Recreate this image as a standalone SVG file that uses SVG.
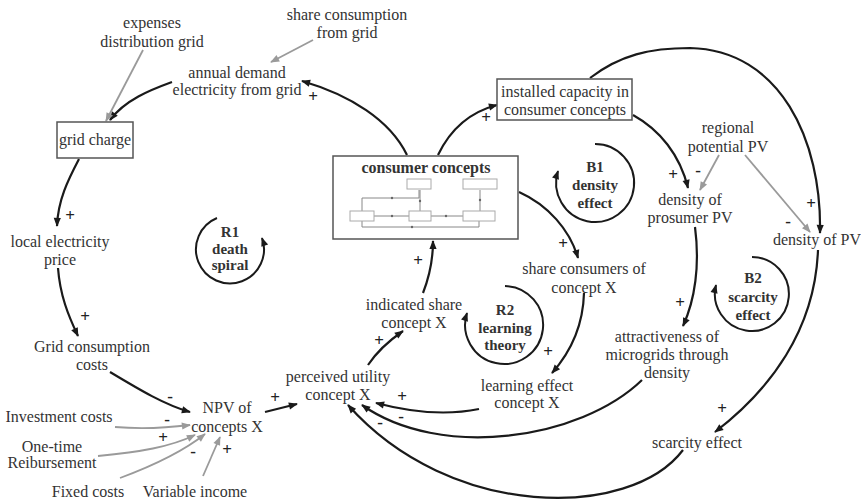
<svg xmlns="http://www.w3.org/2000/svg" width="861" height="500" viewBox="0 0 861 500" font-family="'Liberation Serif', 'DejaVu Serif', 'Noto Serif', serif">
<defs>
<marker id="ah" viewBox="0 0 10 10" refX="9" refY="5" markerWidth="11" markerHeight="9" markerUnits="userSpaceOnUse" orient="auto"><path d="M0,1 L10,5 L0,9 Z" fill="#1a1a1a"/></marker>
<marker id="ahg" viewBox="0 0 10 10" refX="9" refY="5" markerWidth="11" markerHeight="9" markerUnits="userSpaceOnUse" orient="auto"><path d="M0,1 L10,5 L0,9 Z" fill="#9a9a9a"/></marker>
</defs>
<style>
text{font-family:'Liberation Serif','DejaVu Serif','Noto Serif',serif;font-size:16px;fill:#333;text-anchor:middle}
.b{font-weight:bold;font-size:15px}
.t{font-weight:bold;font-size:16px}
.pol{font-size:17px;font-weight:bold;fill:#222}
.lk{fill:none;stroke:#1a1a1a;stroke-width:2.2;marker-end:url(#ah)}
.gl{fill:none;stroke:#9a9a9a;stroke-width:1.8;marker-end:url(#ahg)}
.loop{fill:none;stroke:#1a1a1a;stroke-width:2;marker-end:url(#ah)}
.box{fill:#fff;stroke:#555;stroke-width:1.5}
.mb{fill:#fff;stroke:#aaa;stroke-width:1}
.ml{fill:none;stroke:#888;stroke-width:1}
</style>
<rect width="861" height="500" fill="#fff"/>

<g id="connectors">
<path class="lk" d="M172,82 C150,90 125,100 110,120"/>
<path class="gl" d="M143,50 L106,121"/>
<path class="gl" d="M313,40 L271,62"/>
<path class="lk" d="M407,155 C390,120 350,95 302,81"/>
<path class="lk" d="M438,155 C450,130 470,112 497,105"/>
<path class="lk" d="M79,159 C68,180 58,200 57,226"/>
<path class="lk" d="M58,268 C60,295 68,315 78,336"/>
<path class="lk" d="M110,372 C140,390 165,405 190,412"/>
<path class="gl" d="M115,427 Q150,430 190,425"/>
<path class="gl" d="M98,456 C140,452 170,447 195,435"/>
<path class="gl" d="M120,478 C155,465 185,450 205,434"/>
<path class="gl" d="M203,476 L220,437"/>
<path class="lk" d="M265,412 L297,404"/>
<path class="lk" d="M368,365 C378,350 390,340 403,331"/>
<path class="lk" d="M423,293 C430,275 433,260 433,241"/>
<path class="lk" d="M519,192 C548,205 570,230 578,258"/>
<path class="lk" d="M584,293 C583,330 568,355 552,373"/>
<path class="lk" d="M479,409 C445,416 410,412 376,403"/>
<path class="lk" d="M642,380 C580,440 440,460 362,405"/>
<path class="lk" d="M683,450 C630,520 450,520 348,405"/>
<path class="lk" d="M633,115 C660,130 680,155 688,188"/>
<path class="lk" d="M590,78 C620,55 650,48 690,48 C780,50 822,140 820,233"/>
<path class="gl" d="M719,155 L700,190"/>
<path class="gl" d="M745,155 L810,232"/>
<path class="lk" d="M695,227 C700,265 695,300 683,326"/>
<path class="lk" d="M818,250 C815,330 770,390 715,432"/>
</g>

<g id="polarities">
<text class="pol" x="70" y="221">+</text>
<text class="pol" x="85" y="322">+</text>
<text class="pol" x="170" y="402">-</text>
<text class="pol" x="167" y="425">-</text>
<text class="pol" x="163" y="443">+</text>
<text class="pol" x="193" y="457">-</text>
<text class="pol" x="227" y="455">+</text>
<text class="pol" x="275" y="403">+</text>
<text class="pol" x="379" y="346">+</text>
<text class="pol" x="418" y="266">+</text>
<text class="pol" x="313" y="102">+</text>
<text class="pol" x="486" y="123">+</text>
<text class="pol" x="563" y="249">+</text>
<text class="pol" x="548" y="357">+</text>
<text class="pol" x="402" y="402">+</text>
<text class="pol" x="401" y="422">-</text>
<text class="pol" x="380" y="428">-</text>
<text class="pol" x="673" y="180">+</text>
<text class="pol" x="811" y="209">+</text>
<text class="pol" x="698" y="176">-</text>
<text class="pol" x="788" y="227">-</text>
<text class="pol" x="680" y="308">+</text>
<text class="pol" x="722" y="414">+</text>
</g>

<g id="expenses-distribution-grid"><text x="152" y="28">expenses</text><text x="152" y="47">distribution grid</text></g>
<g id="share-consumption-from-grid"><text x="347" y="20">share consumption</text><text x="347" y="38">from grid</text></g>
<g id="annual-demand"><text x="237" y="78">annual demand</text><text x="237" y="95">electricity from grid</text></g>
<g id="grid-charge"><rect class="box" x="57" y="122" width="76" height="36"/><text x="95" y="145">grid charge</text></g>
<g id="installed-capacity"><rect class="box" x="497" y="79" width="135" height="41"/><text x="565" y="97">installed capacity in</text><text x="565" y="115">consumer concepts</text></g>

<g id="consumer-concepts">
<rect class="box" x="333" y="156" width="185" height="83" stroke-width="2"/>
<text class="t" x="426" y="173">consumer concepts</text>
<path class="ml" d="M362,211 V198 H419 V190"/>
<path class="ml" d="M374,216 H409"/>
<path class="ml" d="M431,216 H463"/>
<path class="ml" d="M362,221 V227 H479 V221"/>
<path class="ml" d="M420,211 V190"/>
<path class="ml" d="M480,211 V190"/>
<rect class="mb" x="407" y="179" width="24" height="10"/>
<rect class="mb" x="463" y="179" width="34" height="10"/>
<rect class="mb" x="350" y="211" width="24" height="10"/>
<rect class="mb" x="409" y="211" width="22" height="10"/>
<rect class="mb" x="463" y="211" width="32" height="10"/>
<g fill="#666"><circle cx="392" cy="198" r="1.2"/><circle cx="392" cy="216" r="1.2"/><circle cx="446" cy="216" r="1.2"/><circle cx="412" cy="227" r="1.2"/><circle cx="420" cy="201" r="1.2"/><circle cx="480" cy="200" r="1.2"/></g>
</g>

<g id="local-electricity-price"><text x="60" y="247">local electricity</text><text x="60" y="265">price</text></g>
<g id="grid-consumption-costs"><text x="92" y="352">Grid consumption</text><text x="92" y="370">costs</text></g>
<g id="npv-of-concepts"><text x="227" y="413">NPV of</text><text x="227" y="432">concepts X</text></g>
<g id="investment-costs"><text x="59" y="422">Investment costs</text></g>
<g id="one-time-reibursement"><text x="52" y="452">One-time</text><text x="52" y="468">Reibursement</text></g>
<g id="fixed-costs"><text x="88" y="497">Fixed costs</text></g>
<g id="variable-income"><text x="195" y="497">Variable income</text></g>
<g id="perceived-utility"><text x="338" y="382">perceived utility</text><text x="338" y="400">concept X</text></g>
<g id="indicated-share"><text x="414" y="310">indicated share</text><text x="414" y="328">concept X</text></g>
<g id="share-consumers"><text x="584" y="274">share consumers of</text><text x="584" y="293">concept X</text></g>
<g id="learning-effect"><text x="527" y="391">learning effect</text><text x="527" y="408">concept X</text></g>
<g id="regional-potential-pv"><text x="728" y="133">regional</text><text x="728" y="152">potential PV</text></g>
<g id="density-prosumer-pv"><text x="690" y="205">density of</text><text x="690" y="223">prosumer PV</text></g>
<g id="density-pv"><text x="773" y="245" style="text-anchor:start">density of PV</text></g>
<g id="attractiveness-microgrids"><text x="667" y="342">attractiveness of</text><text x="667" y="360">microgrids through</text><text x="667" y="378">density</text></g>
<g id="scarcity-effect"><text x="697" y="448">scarcity effect</text></g>

<g id="loop-R1"><path class="loop" d="M217,218 A34,34 0 1 0 262,238"/><text class="b" x="230" y="237">R1</text><text class="b" x="230" y="254">death</text><text class="b" x="230" y="270">spiral</text></g>
<g id="loop-B1"><path class="loop" d="M595,144 A39,39 0 1 1 558,171"/><text class="b" x="595" y="172">B1</text><text class="b" x="595" y="190">density</text><text class="b" x="595" y="208">effect</text></g>
<g id="loop-R2"><path class="loop" d="M505,286 A39,39 0 1 1 467,313"/><text class="b" x="505" y="315">R2</text><text class="b" x="505" y="333">learning</text><text class="b" x="505" y="350">theory</text></g>
<g id="loop-B2"><path class="loop" d="M752,257 A37,37 0 1 1 716,285"/><text class="b" x="753" y="283">B2</text><text class="b" x="753" y="302">scarcity</text><text class="b" x="753" y="320">effect</text></g>
</svg>
